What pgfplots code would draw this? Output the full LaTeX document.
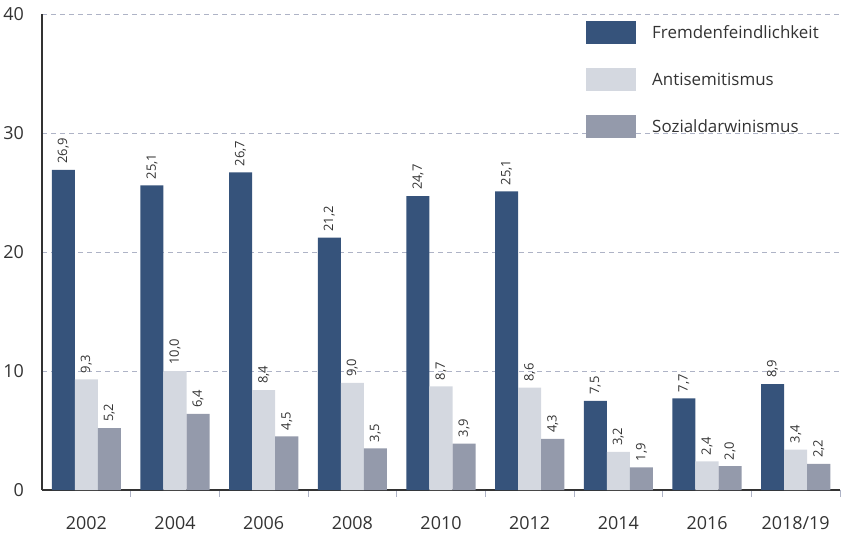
\documentclass[border=0pt]{standalone}
\usepackage{fontspec}
\setmainfont{Open Sans}
\usepackage{pgfplots}
\pgfplotsset{compat=1.18}
\definecolor{cdark}{HTML}{36537B}
\definecolor{clight}{HTML}{D4D8E0}
\definecolor{cgrey}{HTML}{949AAB}
\definecolor{cgrid}{HTML}{AEB3C6}
\definecolor{ctext}{HTML}{333333}
\begin{document}
\begin{tikzpicture}
\begin{axis}[
  scale only axis,
  width=798bp, height=476bp,
  xmin=-0.5, xmax=8.5,
  ymin=0, ymax=40,
  ybar=0pt,
  bar width=0.26,
  xtick={0,...,8},
  xticklabels={2002,2004,2006,2008,2010,2012,2014,2016,2018/19},
  minor xtick={0.5,1.5,...,8.5},
  ytick={0,10,20,30,40},
  axis x line*=bottom,
  axis y line*=left,
  axis line style={draw=ctext, line width=1.5bp},
  major tick length=0pt,
  minor tick length=7bp,
  tick align=outside,
  minor tick style={draw=cgrid, line width=1bp},
  ymajorgrids,
  major grid style={draw=cgrid, line width=0.9bp, dash pattern=on 5bp off 4bp},
  /pgf/number format/assume math mode=true,
  ticklabel style={font=\fontsize{18}{18}\selectfont, text=ctext, inner sep=0pt},
  yticklabel style={xshift=-18bp},
  xticklabel style={yshift=-26bp},
  point meta=explicit,
  nodes near coords={\pgfmathprintnumber[fixed,fixed zerofill,precision=1,use comma]{\pgfplotspointmeta}},
  every node near coord/.append style={rotate=90, anchor=west, inner xsep=6bp, inner ysep=0pt, font=\fontsize{13}{13}\selectfont, text=ctext},
  legend image code/.code={\path[#1, draw=none] (0bp,-11.5bp) rectangle (50bp,11.5bp);},
  legend style={at={(0.678,0.989)}, anchor=north west, draw=none, fill=none,
    font=\fontsize{17}{17}\selectfont, text=ctext, row sep=24bp,
    nodes={inner sep=0pt}, cells={anchor=west},
    /tikz/every odd column/.append style={column sep=16bp}},
]
\addplot[fill=cdark, draw=none] coordinates {(0,26.9) [26.9] (1,25.6) [25.1] (2,26.7) [26.7] (3,21.2) [21.2] (4,24.7) [24.7] (5,25.1) [25.1] (6,7.5) [7.5] (7,7.7) [7.7] (8,8.9) [8.9]};
\addplot[fill=clight, draw=none] coordinates {(0,9.3) [9.3] (1,10.0) [10.0] (2,8.4) [8.4] (3,9.0) [9.0] (4,8.7) [8.7] (5,8.6) [8.6] (6,3.2) [3.2] (7,2.4) [2.4] (8,3.4) [3.4]};
\addplot[fill=cgrey, draw=none] coordinates {(0,5.2) [5.2] (1,6.4) [6.4] (2,4.5) [4.5] (3,3.5) [3.5] (4,3.9) [3.9] (5,4.3) [4.3] (6,1.9) [1.9] (7,2.0) [2.0] (8,2.2) [2.2]};
\legend{Fremdenfeindlichkeit,Antisemitismus,Sozialdarwinismus}
\coordinate (ll) at (rel axis cs:0,0);
\coordinate (ur) at (rel axis cs:1,1);
\end{axis}
\pgfresetboundingbox
\path ([shift={(-42bp,-45bp)}]ll) rectangle ([shift={(3bp,14bp)}]ur);
\end{tikzpicture}
\end{document}
